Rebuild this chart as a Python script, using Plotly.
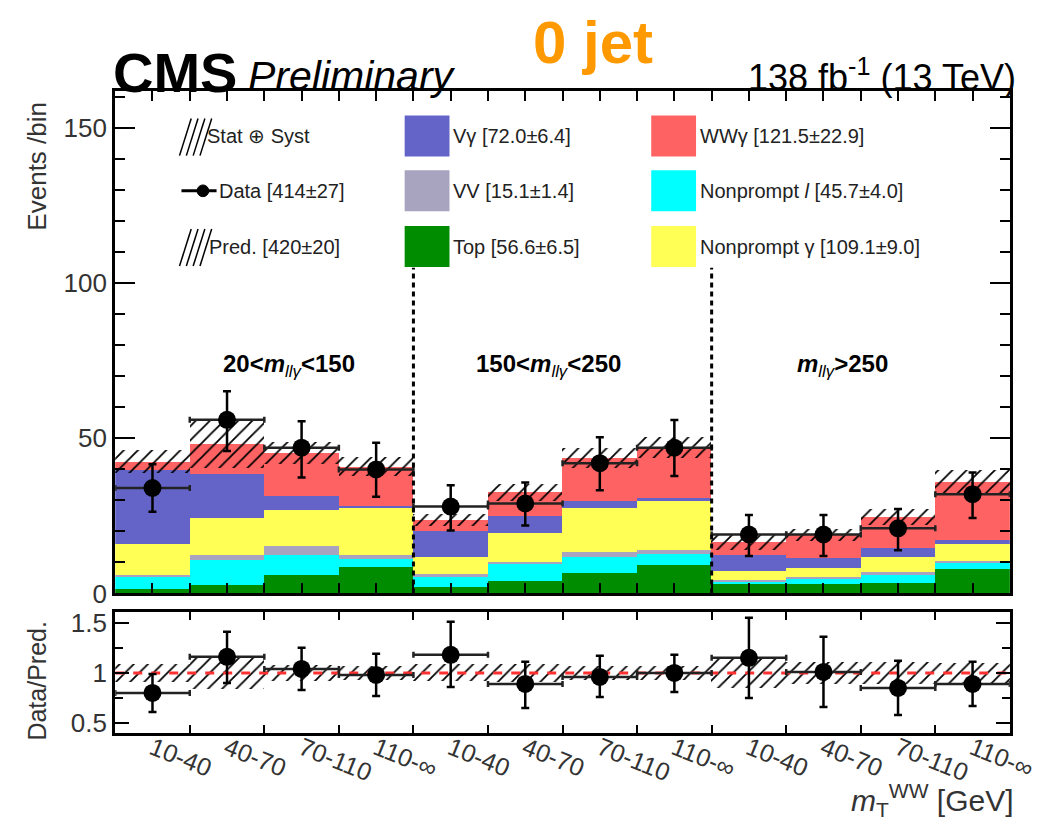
import plotly.graph_objects as go

# ---------------- data ----------------
bin_labels = ["10-40", "40-70", "70-110", "110-∞",
              "10-40", "40-70", "70-110", "110-∞",
              "10-40", "40-70", "70-110", "110-∞"]
region_sizes = [4, 4, 4]
region_labels = ["<b>20&lt;<i>m</i></b><sub><i>llγ</i></sub><b>&lt;150</b>",
                 "<b>150&lt;<i>m</i></b><sub><i>llγ</i></sub><b>&lt;250</b>",
                 "<b><i>m</i></b><sub><i>llγ</i></sub><b>&gt;250</b>"]

top         = [1.4, 2.7, 5.9, 8.5, 2.1, 4.1, 6.6, 9.1, 2.9, 2.9, 3.4, 7.8]
nonprompt_l = [4.0, 8.0, 6.6, 2.7, 3.2, 5.3, 5.2, 3.5, 1.0, 1.9, 2.5, 2.0]
vv          = [0.5, 1.6, 2.7, 1.1, 0.8, 0.7, 1.6, 1.3, 0.3, 0.3, 0.8, 0.6]
nonprompt_g = [10.1, 12.1, 11.8, 15.5, 5.7, 9.4, 14.2, 15.7, 3.0, 3.2, 5.1, 5.6]
vgamma      = [23.8, 14.1, 4.3, 0.2, 8.2, 5.5, 2.3, 1.2, 5.1, 3.2, 2.8, 1.2]
wwgamma     = [2.7, 9.8, 13.9, 12.8, 3.7, 7.6, 13.8, 16.2, 4.2, 7.3, 10.1, 18.8]
pred_unc    = [3.8, 7.9, 3.6, 3.0, 2.0, 2.8, 3.2, 3.4, 2.4, 2.0, 2.6, 3.6]

data        = [34, 56, 47, 40, 28, 29, 42, 47, 19, 19, 21, 32]
data_err_up = [7.7, 9.2, 8.5, 8.6, 6.9, 6.8, 8.4, 8.9, 6.3, 6.3, 6.2, 7.0]
data_err_dn = [7.7, 10.1, 9.6, 8.8, 7.7, 7.1, 8.7, 9.1, 6.9, 6.9, 7.1, 7.7]

ratio        = [0.80, 1.16, 1.04, 0.98, 1.18, 0.89, 0.96, 1.00, 1.15, 1.01, 0.85, 0.89]
ratio_err_up = [0.19, 0.25, 0.21, 0.21, 0.33, 0.22, 0.21, 0.18, 0.40, 0.35, 0.27, 0.22]
ratio_err_dn = [0.19, 0.26, 0.21, 0.21, 0.32, 0.24, 0.20, 0.19, 0.40, 0.35, 0.27, 0.22]

components = [
    ("Top [56.6±6.5]", top, "#008C00"),
    ("Nonprompt <i>l</i> [45.7±4.0]", nonprompt_l, "#00FFFF"),
    ("VV [15.1±1.4]", vv, "#A8A4C0"),
    ("Nonprompt γ [109.1±9.0]", nonprompt_g, "#FFFF55"),
    ("Vγ [72.0±6.4]", vgamma, "#6464C8"),
    ("WWγ [121.5±22.9]", wwgamma, "#FF6262"),
]
legend_other = ["Stat ⊕ Syst", "Data [414±27]", "Pred. [420±20]"]

# ---------------- figure ----------------
W, H = 1062, 832
def px(x): return x / W
def py(y): return 1 - y / H

nb = len(data)
xc = list(range(nb))
FONT = "Liberation Sans, Arial, sans-serif"

fig = go.Figure()

cum = [0.0] * nb
for name, vals, col in components:
    fig.add_trace(go.Bar(x=xc, y=vals, base=cum[:], width=1.0,
                         marker=dict(color=col, line=dict(width=0)),
                         showlegend=False, xaxis="x", yaxis="y", name=name))
    cum = [c + v for c, v in zip(cum, vals)]
pred = cum

hatch = dict(shape="/", fgcolor="black", bgcolor="rgba(0,0,0,0)", fgopacity=1,
             size=10, solidity=0.18, fillmode="overlay")
fig.add_trace(go.Bar(x=xc, y=[2 * u for u in pred_unc],
                     base=[p - u for p, u in zip(pred, pred_unc)], width=1.0,
                     marker=dict(color="rgba(0,0,0,0)", line=dict(width=0), pattern=hatch),
                     showlegend=False, xaxis="x", yaxis="y"))

fig.add_trace(go.Scatter(x=xc, y=data, mode="markers",
                         marker=dict(color="black", size=18),
                         error_y=dict(type="data", symmetric=False, array=data_err_up,
                                      arrayminus=data_err_dn, color="black",
                                      thickness=2.5, width=4),
                         error_x=dict(type="constant", value=0.5, color="#222",
                                      thickness=2.5, width=3),
                         showlegend=False, xaxis="x", yaxis="y"))

# ratio panel
rel = [u / p for u, p in zip(pred_unc, pred)]
fig.add_trace(go.Bar(x=xc, y=[2 * r for r in rel], base=[1 - r for r in rel], width=1.0,
                     marker=dict(color="rgba(0,0,0,0)", line=dict(width=0), pattern=hatch),
                     showlegend=False, xaxis="x2", yaxis="y2"))
fig.add_trace(go.Scatter(x=[-0.5, nb - 0.5], y=[1, 1], mode="lines",
                         line=dict(color="#FF3030", width=3, dash="dash"),
                         showlegend=False, xaxis="x2", yaxis="y2"))
fig.add_trace(go.Scatter(x=xc, y=ratio, mode="markers",
                         marker=dict(color="black", size=18),
                         error_y=dict(type="data", symmetric=False, array=ratio_err_up,
                                      arrayminus=ratio_err_dn, color="black",
                                      thickness=2.5, width=4),
                         error_x=dict(type="constant", value=0.5, color="#222",
                                      thickness=2.5, width=3),
                         showlegend=False, xaxis="x2", yaxis="y2"))

xdom = [px(110), px(1028)]
edges = [i - 0.5 for i in range(nb + 1)]
axline = dict(showline=True, linewidth=3, linecolor="black", mirror="ticks",
              showgrid=False, zeroline=False, ticks="inside", tickcolor="black", tickwidth=2)

fig.update_layout(
    width=W, height=H, margin=dict(l=0, r=0, t=0, b=0),
    paper_bgcolor="white", plot_bgcolor="rgba(0,0,0,0)",
    barmode="overlay", bargap=0,
    font=dict(family=FONT, color="#222"),
    xaxis=dict(domain=xdom, range=[-0.5, nb - 0.5], anchor="y", tickvals=xc,
               ticklen=10, showticklabels=False,
               minor=dict(tickvals=edges, ticklen=10, ticks="inside", tickcolor="black"),
               **axline),
    yaxis=dict(domain=[py(595), py(81)], range=[0, 162], anchor="x",
               tickvals=[0, 50, 100, 150], ticklen=20,
               tickfont=dict(size=26, color="#333"),
               minor=dict(dtick=10, ticklen=10, ticks="inside", tickcolor="black"),
               **axline),
    xaxis2=dict(domain=xdom, range=[-0.5, nb - 0.5], anchor="y2", tickvals=xc,
                ticktext=bin_labels, ticklen=0, tickangle=22, ticklabelstandoff=-12,
                tickfont=dict(size=25, color="#333"),
                minor=dict(tickvals=edges, ticklen=8, ticks="inside", tickcolor="black"),
                **axline),
    yaxis2=dict(domain=[py(738), py(614)], range=[0.4, 1.607], anchor="x2",
                tickvals=[0.5, 1, 1.5], ticktext=["0.5", "1", "1.5"], ticklen=14,
                tickfont=dict(size=26, color="#333"),
                minor=dict(dtick=0.25, ticklen=8, ticks="inside", tickcolor="black"),
                **axline),
)

shapes = []
ann = []

# region separators and labels
b = -0.5
bounds = []
for s in region_sizes:
    b += s
    bounds.append(b)
for bx in bounds[:-1]:
    shapes.append(dict(type="line", xref="x", yref="y", x0=bx, x1=bx, y0=0, y1=105,
                       line=dict(color="black", width=3, dash="5px,4px")))
reg_px = [288, 555, 856]
for lab, xp in zip(region_labels, reg_px):
    ann.append(dict(text=lab, x=px(xp), y=py(362), xref="paper", yref="paper",
                    showarrow=False, xanchor="center", yanchor="middle",
                    font=dict(size=24, color="black")))

# legend
rows_y = [127, 183, 240]
lfs = dict(size=20, color="#222")
def hatch_sym(x0, yc):
    for k in range(4):
        xa = x0 + k * 7
        shapes.append(dict(type="line", xref="paper", yref="paper",
                           x0=px(xa), y0=py(yc + 20), x1=px(xa + 12), y1=py(yc - 18),
                           line=dict(color="black", width=1.5)))
hatch_sym(176, rows_y[0])
hatch_sym(176, rows_y[2])
shapes.append(dict(type="line", xref="paper", yref="paper", x0=px(178), x1=px(214),
                   y0=py(rows_y[1]), y1=py(rows_y[1]), line=dict(color="black", width=3)))
shapes.append(dict(type="circle", xref="paper", yref="paper", x0=px(194), x1=px(206),
                   y0=py(rows_y[1] - 6), y1=py(rows_y[1] + 6),
                   fillcolor="black", line=dict(color="black", width=1)))
for lab, yy, xs in zip(legend_other, rows_y, [202, 214, 204]):
    ann.append(dict(text=lab, x=px(xs), y=py(yy), xref="paper", yref="paper",
                    showarrow=False, xanchor="left", yanchor="middle", font=lfs))
leg_order = [components[4], components[2], components[0],
             components[5], components[1], components[3]]
for i, (name, _, col) in enumerate(leg_order):
    cx = 407 if i < 3 else 660
    yy = rows_y[i % 3]
    shapes.append(dict(type="rect", xref="paper", yref="paper",
                       x0=px(cx), x1=px(cx + 46), y0=py(yy + 21), y1=py(yy - 21),
                       fillcolor=col, line=dict(width=0)))
    ann.append(dict(text=name, x=px(cx + 48), y=py(yy), xref="paper", yref="paper",
                    showarrow=False, xanchor="left", yanchor="middle", font=lfs))

# titles
ann += [
    dict(text="<b>CMS</b>", x=px(106), y=py(62), xanchor="left", yanchor="middle",
         font=dict(size=56, color="black")),
    dict(text="<i>Preliminary</i>", x=px(244), y=py(66), xanchor="left", yanchor="middle",
         font=dict(size=41, color="black")),
    dict(text="<b>0 jet</b>", x=px(600), y=py(31), xanchor="center", yanchor="middle",
         font=dict(size=60, color="#FF9900")),
    dict(text="138 fb<sup>-1</sup> (13 TeV)", x=px(1036), y=py(64), xanchor="right",
         yanchor="middle", font=dict(size=36, color="black")),
    dict(text="Events /bin", x=px(30), y=py(158), xanchor="center", yanchor="middle",
         textangle=-90, font=dict(size=26, color="#333")),
    dict(text="Data/Pred.", x=px(30), y=py(684), xanchor="center", yanchor="middle",
         textangle=-90, font=dict(size=25, color="#333")),
    dict(text="<i>m</i><sub>T</sub><sup>WW</sup> [GeV]", x=px(1034), y=py(806),
         xanchor="right", yanchor="middle", font=dict(size=30, color="#333")),
]
for a in ann:
    a.setdefault("xref", "paper")
    a.setdefault("yref", "paper")
    a.setdefault("showarrow", False)

fig.update_layout(shapes=shapes, annotations=ann)
fig.write_html("out.html")
